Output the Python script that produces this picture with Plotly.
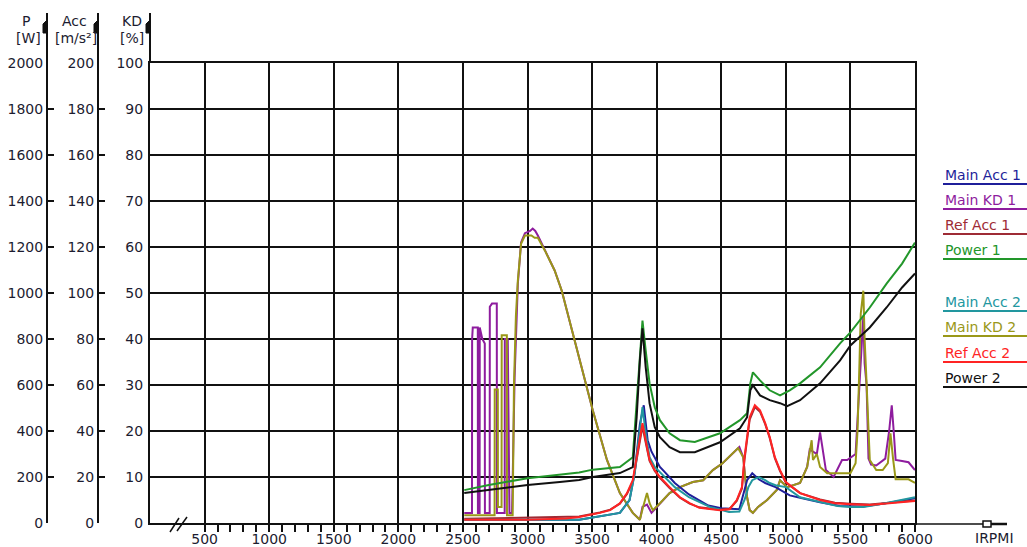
import plotly.graph_objects as go

# ---------------- DATA ----------------
series_names = ["Main Acc 1", "Main KD 1", "Ref Acc 1", "Power 1",
                "Main Acc 2", "Main KD 2", "Ref Acc 2", "Power 2"]
x_ticks = [500, 1000, 1500, 2000, 2500, 3000, 3500, 4000, 4500, 5000, 5500, 6000]
kd_ticks = [0, 10, 20, 30, 40, 50, 60, 70, 80, 90, 100]
acc_ticks = [0, 20, 40, 60, 80, 100, 120, 140, 160, 180, 200]
p_ticks = [0, 200, 400, 600, 800, 1000, 1200, 1400, 1600, 1800, 2000]
x_label = "IRPMI"

# Power [W]
rpm_power1 = [2510, 2700, 3000, 3250, 3400, 3505, 3715, 3815, 3845, 3870, 3890, 3915, 3945, 3985,
              4025, 4100, 4180, 4295, 4490, 4645, 4700, 4725, 4745, 4800, 4875, 4955, 5030, 5110,
              5265, 5420, 5500, 5650, 5780, 5900, 6000]
power1 = [143, 165, 195, 212, 220, 232, 243, 286, 534, 750, 880, 750, 607, 503,
          447, 390, 360, 352, 390, 447, 477, 607, 655, 620, 577, 555, 577, 607,
          677, 781, 829, 937, 1041, 1128, 1219]
rpm_power2 = [2510, 2700, 3000, 3250, 3400, 3505, 3715, 3815, 3845, 3870, 3890, 3915, 3945, 3985,
              4025, 4100, 4180, 4295, 4490, 4645, 4700, 4725, 4745, 4800, 4875, 4955, 5010, 5110,
              5265, 5420, 5500, 5650, 5780, 5900, 6000]
power2 = [130, 143, 165, 178, 187, 200, 217, 243, 460, 707, 846, 677, 520, 417,
          373, 330, 308, 308, 351, 412, 460, 577, 599, 555, 534, 521, 508, 534,
          607, 707, 772, 850, 937, 1024, 1085]

# Acceleration [m/s²]
rpm_ref2 = [2510, 3000, 3300, 3400, 3560, 3640, 3715, 3770, 3815, 3845, 3870, 3890, 3915, 3945,
            3985, 4025, 4100, 4180, 4255, 4330, 4490, 4565, 4620, 4660, 4680, 4720, 4760, 4800,
            4840, 4875, 4915, 4955, 5000, 5110, 5265, 5380, 5500, 5650, 5800, 6000]
ref_acc2 = [1.4, 1.4, 2.0, 2.6, 4.4, 5.6, 8.6, 13, 18.6, 28.6, 36, 43.4, 36, 27.4,
            23, 20, 15.6, 11.2, 8.6, 6.6, 5.6, 6.0, 10, 15.6, 28.6, 46, 51.2, 49,
            43.4, 37.4, 28.6, 23, 17.8, 13, 10, 8.6, 8.2, 7.8, 8.6, 9.6]
rpm_ref1 = [2510, 3000, 3300, 3400, 3560, 3640, 3715, 3770, 3815, 3845, 3870, 3890, 3915, 3945,
            3985, 4025, 4100, 4180, 4255, 4330, 4490, 4565, 4620, 4660, 4680, 4720, 4760, 4800,
            4840, 4875, 4915, 4955, 5000, 5110, 5265, 5380, 5500, 5650, 5800, 6000]
ref_acc1 = [1.8, 2.2, 2.4, 2.8, 4.6, 5.8, 8.4, 12.6, 18, 27.6, 35, 42, 35, 27,
            22.6, 19.6, 15.2, 11, 8.4, 6.8, 5.8, 6.2, 9.6, 15, 27.6, 45, 50.4, 48.4,
            43, 37, 28.2, 22.6, 17.6, 13, 10.2, 8.8, 8.4, 8.0, 8.8, 9.8]
rpm_main2 = [2510, 3400, 3715, 3790, 3830, 3870, 3890, 3915, 3945, 3985, 4065, 4140, 4250, 4410,
             4560, 4640, 4680, 4710, 4740, 4790, 4840, 4875, 4920, 5000, 5110, 5265, 5400, 5500,
             5600, 5750, 5900, 6000]
main_acc2 = [1.4, 1.4, 4.4, 10, 21.6, 41.6, 50.4, 39, 28.6, 24.4, 20, 15.6, 11.2, 7,
             4.8, 5, 10, 15.6, 18.6, 20, 18.6, 17.4, 16.4, 15.6, 11.2, 9.2, 7.4, 7.0,
             7.0, 8.4, 10, 11.2]
rpm_main1 = [2510, 3400, 3715, 3790, 3830, 3870, 3900, 3930, 3960, 3985, 4025, 4065, 4140, 4250,
             4400, 4500, 4640, 4700, 4740, 4790, 4840, 4920, 5030, 5110, 5265, 5420, 5600, 5800, 6000]
main_acc1 = [1.4, 1.4, 4.4, 10, 22, 43, 51.2, 36, 31, 28.6, 24.4, 22, 17.4, 12.4,
             7.6, 6.4, 6.0, 18.6, 21.6, 19, 17.4, 15.6, 12, 11, 9, 7.4, 7.2, 8.8, 10.8]

# KD [%]
rpm_kd1 = [2510, 2570, 2571, 2576, 2615, 2616, 2629, 2630, 2650, 2669, 2670, 2707, 2708, 2725,
           2762, 2763, 2823, 2824, 2847, 2850, 2855, 2860, 2880, 2890, 2900, 2925, 2950, 2980,
           3020, 3040, 3060, 3080, 3135, 3210, 3265, 3310, 3365, 3420, 3465, 3505, 3615, 3715,
           3815, 3870, 3890, 3925, 3960, 4025, 4100, 4180, 4280, 4360, 4435, 4510, 4590, 4640,
           4670, 4700, 4720, 4745, 4785, 4855, 4930, 4955, 5010, 5110, 5165, 5185, 5240, 5265,
           5280, 5310, 5370, 5435, 5475, 5540, 5560, 5580, 5600, 5610, 5625, 5640, 5660, 5700,
           5770, 5800, 5820, 5835, 5850, 5900, 5950, 6000]
main_kd1 = [2.2, 2.2, 40, 42.5, 42.5, 2.2, 2.2, 42.5, 40, 39, 2.2, 2.2, 47, 47.7,
            47.7, 2.2, 2.2, 40, 40, 26, 21.7, 2.2, 2.2, 20, 31.7, 52, 61, 63,
            63.5, 64, 63.5, 62.5, 59.2, 54.9, 50.5, 45.5, 39.7, 33.8, 28.9, 24.5, 13.7, 6.5,
            2.2, 0.7, 3.5, 4, 2.2, 4.3, 6.5, 7.8, 8.9, 9.3, 11.5, 13, 15.2, 16.5,
            14.3, 5.6, 2.8, 2.2, 3.5, 5, 7.2, 9.3, 7.8, 8.7, 12.2, 16, 15, 19.7,
            17, 11.5, 10, 13.7, 13.7, 15, 25, 34.7, 45, 34.7, 30, 14, 12.7, 12.5,
            14, 20, 25.6, 20, 13.7, 13.5, 13.2, 11.5]
rpm_kd2 = [2510, 2745, 2746, 2770, 2771, 2799, 2800, 2840, 2841, 2885, 2895, 2910, 2925, 2950,
           2980, 3030, 3055, 3080, 3135, 3210, 3265, 3310, 3365, 3420, 3465, 3505, 3615, 3715,
           3815, 3870, 3890, 3925, 3945, 3970, 4025, 4100, 4180, 4280, 4360, 4435, 4510, 4590,
           4630, 4670, 4700, 4720, 4745, 4785, 4855, 4930, 4955, 5010, 5110, 5165, 5185, 5200,
           5210, 5240, 5265, 5320, 5420, 5500, 5540, 5555, 5570, 5580, 5600, 5610, 5625, 5640,
           5650, 5700, 5750, 5790, 5810, 5830, 5850, 5950, 6000]
main_kd2 = [1.7, 1.7, 29, 29, 3.5, 3.5, 40.8, 40.8, 1.7, 1.7, 30, 45, 52.7, 60.7,
            62.5, 62.5, 62, 62, 59.2, 54.9, 50.5, 45.5, 39.7, 33.8, 28.9, 24.5, 13.7, 6.5,
            2.2, 0.7, 3, 6.5, 4.3, 2.8, 4.3, 6.5, 7.8, 8.9, 9.3, 11.5, 13, 15.2,
            16.3, 14.3, 5.6, 2.8, 2.2, 3.5, 5, 7.2, 9.3, 7.8, 8.7, 12.2, 15.8, 18,
            13.7, 15, 12.2, 10.8, 10.8, 10.8, 13, 20, 34.7, 45.5, 50.5, 40, 30.4, 18,
            13.7, 11.5, 11.5, 13, 19.5, 14, 9.5, 9.5, 8.7]

colors = {"Main Acc 1": "#1f1f9a", "Main KD 1": "#8e1c9e", "Ref Acc 1": "#9e2b35",
          "Power 1": "#22962a", "Main Acc 2": "#22979f", "Main KD 2": "#9a9818",
          "Ref Acc 2": "#ff2424", "Power 2": "#111111"}

W, H = 1027, 547
def px(x):
    return x / W
def py(y):
    return 1 - y / H

FONT = "DejaVu Sans"
TXT = "#1c1c30"

fig = go.Figure()
traces = [
    ("Main Acc 1", rpm_main1, main_acc1, "y2"),
    ("Main KD 1", rpm_kd1, main_kd1, "y"),
    ("Ref Acc 1", rpm_ref1, ref_acc1, "y2"),
    ("Power 1", rpm_power1, power1, "y3"),
    ("Main Acc 2", rpm_main2, main_acc2, "y2"),
    ("Main KD 2", rpm_kd2, main_kd2, "y"),
    ("Ref Acc 2", rpm_ref2, ref_acc2, "y2"),
    ("Power 2", rpm_power2, power2, "y3"),
]
for name, xs, ys, ax in traces:
    fig.add_trace(go.Scatter(x=xs, y=ys, mode="lines", name=name, yaxis=ax,
                             line=dict(color=colors[name], width=2)))

x_dom = [px(150), px(915)]
y_dom = [py(523), py(63)]
minor_vals = [v for v in range(600, 6000, 100) if v % 500 != 0]

fig.update_layout(
    width=W, height=H, margin=dict(l=0, r=0, t=0, b=0, autoexpand=False),
    paper_bgcolor="white", plot_bgcolor="white", showlegend=False,
    font=dict(family=FONT, size=14, color=TXT),
    xaxis=dict(domain=x_dom, range=[77, 6000], tickmode="array", tickvals=x_ticks,
               showgrid=True, gridcolor="#111", gridwidth=2, zeroline=False,
               showline=True, linecolor="#111", linewidth=2, mirror=True,
               ticks="outside", ticklen=7, tickwidth=1.5, tickcolor="#111",
               ticklabelstandoff=-5,
               minor=dict(tickvals=minor_vals, ticks="outside", ticklen=7, tickwidth=1.5,
                          tickcolor="#111", showgrid=False),
               tickfont=dict(family=FONT, size=14, color=TXT)),
    yaxis=dict(domain=y_dom, range=[0, 100], tickmode="array", tickvals=kd_ticks,
               showgrid=True, gridcolor="#111", gridwidth=2, zeroline=False,
               showline=True, linecolor="#111", linewidth=2, mirror=True,
               ticks="", ticklabelstandoff=2,
               tickfont=dict(family=FONT, size=14, color=TXT)),
    yaxis2=dict(domain=y_dom, range=[0, 200], tickmode="array", tickvals=acc_ticks,
                overlaying="y", anchor="free", position=px(98), side="left",
                showgrid=False, zeroline=False, showline=True, linecolor="#111", linewidth=2,
                ticks="inside", ticklen=6, tickwidth=1.5, tickcolor="#111",
                tickfont=dict(family=FONT, size=14, color=TXT)),
    yaxis3=dict(domain=y_dom, range=[0, 2000], tickmode="array", tickvals=p_ticks,
                overlaying="y", anchor="free", position=px(47), side="left",
                showgrid=False, zeroline=False, showline=True, linecolor="#111", linewidth=2,
                ticks="inside", ticklen=6, tickwidth=1.5, tickcolor="#111",
                tickfont=dict(family=FONT, size=14, color=TXT)),
)

shapes = []
annotations = []
# axis extensions above the plot + small arrow marks
for ax_x in (47, 98, 150):
    shapes.append(dict(type="line", xref="paper", yref="paper", x0=px(ax_x), x1=px(ax_x),
                       y0=py(63), y1=py(13), line=dict(color="#111", width=2)))
    shapes.append(dict(type="path", xref="paper", yref="paper",
                       path=f"M {px(ax_x)} {py(20)} L {px(ax_x-4)} {py(24)} L {px(ax_x-4)} {py(33)} "
                            f"L {px(ax_x)} {py(33)} Z",
                       fillcolor="#111", line=dict(color="#111", width=1)))
# x-axis extension with end symbol
shapes.append(dict(type="line", xref="paper", yref="paper", x0=px(915), x1=px(983),
                   y0=py(524), y1=py(524), line=dict(color="#111", width=1.5)))
shapes.append(dict(type="rect", xref="paper", yref="paper", x0=px(983), x1=px(991),
                   y0=py(527), y1=py(521), fillcolor="white", line=dict(color="#111", width=1.5)))
shapes.append(dict(type="line", xref="paper", yref="paper", x0=px(991), x1=px(1007),
                   y0=py(524), y1=py(524), line=dict(color="#111", width=2.5)))
# axis break marks
for (a, b) in (((170, 532), (179, 518)), ((177, 531), (187, 517))):
    shapes.append(dict(type="line", xref="paper", yref="paper", x0=px(a[0]), y0=py(a[1]),
                       x1=px(b[0]), y1=py(b[1]), line=dict(color="#111", width=1.5)))

# axis titles
for (tx, ty, t) in ((26, 21, "P"), (28, 38, "[W]"), (74, 21, "Acc"), (76, 38, "[m/s²]"),
                    (132, 21, "KD"), (132, 38, "[%]")):
    annotations.append(dict(x=px(tx), y=py(ty), xref="paper", yref="paper", text=t,
                            showarrow=False, xanchor="center", yanchor="middle",
                            font=dict(family=FONT, size=14, color=TXT)))
annotations.append(dict(x=px(994), y=py(538), xref="paper", yref="paper", text=x_label,
                        showarrow=False, xanchor="center", yanchor="middle",
                        font=dict(family=FONT, size=14, color=TXT)))

# legend (text + underline)
legend_y = [175, 200, 225, 250, 302, 327, 353, 378]
for name, ly in zip(series_names, legend_y):
    annotations.append(dict(x=px(943), y=py(ly), xref="paper", yref="paper", text=name,
                            showarrow=False, xanchor="left", yanchor="middle",
                            font=dict(family=FONT, size=14, color=colors[name])))
    shapes.append(dict(type="line", xref="paper", yref="paper", x0=px(943), x1=px(1027),
                       y0=py(ly + 9), y1=py(ly + 9), line=dict(color=colors[name], width=2)))

fig.update_layout(shapes=shapes, annotations=annotations)
fig.write_html("out.html", config={"displayModeBar": False},
               post_script="document.body.style.margin='0';document.body.style.overflow='hidden';")
